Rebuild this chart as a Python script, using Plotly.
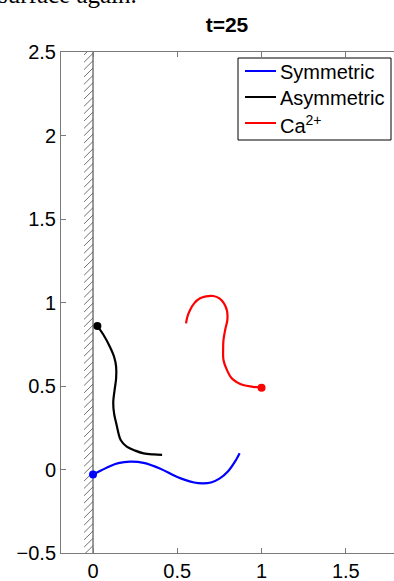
import plotly.graph_objects as go
import numpy as np

# ---- data ----
sym_x = [0.0, 0.05, 0.10, 0.15, 0.22, 0.30, 0.40, 0.50, 0.60, 0.65, 0.70, 0.75, 0.80, 0.85, 0.87]
sym_y = [-0.03, -0.005, 0.02, 0.038, 0.047, 0.040, 0.005, -0.045, -0.078, -0.083, -0.078, -0.055, -0.012, 0.060, 0.097]

asym_x = [0.026, 0.06, 0.10, 0.125, 0.137, 0.137, 0.128, 0.12, 0.125, 0.14, 0.165, 0.20, 0.25, 0.30, 0.36, 0.41]
asym_y = [0.859, 0.81, 0.735, 0.675, 0.616, 0.545, 0.476, 0.40, 0.336, 0.267, 0.175, 0.137, 0.113, 0.097, 0.090, 0.087]

ca_x = [1.0, 0.95, 0.89, 0.85, 0.823, 0.795, 0.774, 0.772, 0.774, 0.785, 0.797, 0.795, 0.777, 0.75, 0.714, 0.67, 0.635, 0.60, 0.576, 0.560, 0.552]
ca_y = [0.49, 0.495, 0.506, 0.525, 0.546, 0.595, 0.656, 0.715, 0.775, 0.84, 0.895, 0.95, 0.995, 1.025, 1.039, 1.037, 1.025, 0.995, 0.955, 0.915, 0.875]

wall_x = [-0.053, 0.0]
hatch_step = 0.044
y_range = [-0.5, 2.5]
x_range = [-0.19, 1.786]

x_ticks = [0, 0.5, 1, 1.5]
x_ticklabels = ["0", "0.5", "1", "1.5"]
y_ticks = [-0.5, 0, 0.5, 1, 1.5, 2, 2.5]
y_ticklabels = ["\u22120.5", "0", "0.5", "1", "1.5", "2", "2.5"]

title_text = "t=25"
names = ["Symmetric", "Asymmetric", "Ca<sup>2+</sup>"]
colors = ["#0000ff", "#000000", "#ff0000"]

# ---- layout geometry (pixels) ----
W, H = 394, 581
ML, MR, MT, MB = 61, 0, 52, 28
PW, PH = W - ML - MR, H - MT - MB


def px_x(px):
    return (px - ML) / PW


def px_y(py):
    return (H - MB - py) / PH


fig = go.Figure()

# hatched wall: diagonal strokes generated along the wall
hx, hy = [], []
dx = wall_x[1] - wall_x[0]
for y0 in np.arange(y_range[0] - dx, y_range[1], hatch_step):
    hx += [wall_x[0], wall_x[1], None]
    hy += [y0, y0 + dx, None]
fig.add_trace(go.Scatter(x=hx, y=hy, mode="lines", line=dict(color="#606060", width=0.9),
                         showlegend=False, hoverinfo="skip"))
fig.add_trace(go.Scatter(x=[wall_x[1], wall_x[1]], y=y_range, mode="lines",
                         line=dict(color="#555555", width=1.2), showlegend=False, hoverinfo="skip"))

# curves
for xs, ys, nm, c in [(sym_x, sym_y, names[0], colors[0]),
                      (asym_x, asym_y, names[1], colors[1]),
                      (ca_x, ca_y, names[2], colors[2])]:
    fig.add_trace(go.Scatter(x=xs, y=ys, mode="lines", name=nm, showlegend=False,
                             line=dict(color=c, width=2.2, shape="spline")))
    fig.add_trace(go.Scatter(x=[xs[0]], y=[ys[0]], mode="markers", showlegend=False,
                             marker=dict(color=c, size=8)))

axis_common = dict(showgrid=False, zeroline=False, showline=True, linecolor="#7a7a7a",
                   linewidth=1, ticks="inside", ticklen=5,
                   tickcolor="#7a7a7a", tickfont=dict(family="Liberation Sans", size=20, color="black"))

fig.update_xaxes(range=x_range, tickvals=x_ticks, ticktext=x_ticklabels, mirror="ticks", **axis_common)
fig.update_yaxes(range=y_range, tickvals=y_ticks, ticktext=y_ticklabels, mirror=False, **axis_common)

# ---- legend (drawn box) ----
shapes = [dict(type="rect", xref="paper", yref="paper",
               x0=px_x(238), x1=px_x(391), y0=px_y(140), y1=px_y(58),
               line=dict(color="black", width=1), fillcolor="white", layer="above")]
annotations = []
rows = [71, 97, 123]
for nm, c, ry in zip(names, colors, rows):
    shapes.append(dict(type="line", xref="paper", yref="paper",
                       x0=px_x(245), x1=px_x(276), y0=px_y(ry), y1=px_y(ry),
                       line=dict(color=c, width=2), layer="above"))
    annotations.append(dict(text=nm, xref="paper", yref="paper", x=px_x(278), y=px_y(ry + 1),
                            xanchor="left", yanchor="middle", showarrow=False,
                            font=dict(family="Liberation Sans", size=20, color="black")))

annotations.append(dict(text="surface again.", xref="paper", yref="paper",
                        x=px_x(-4), xanchor="left", y=px_y(-5.5), yanchor="middle", showarrow=False,
                        font=dict(family="Liberation Serif", size=25, color="black")))

fig.update_layout(
    width=W, height=H,
    margin=dict(l=ML, r=MR, t=MT, b=MB),
    paper_bgcolor="white", plot_bgcolor="white",
    showlegend=False,
    title=dict(text="<b>" + title_text + "</b>", x=227 / W, xanchor="center", y=1 - 25 / H, yanchor="middle",
               font=dict(family="Liberation Sans", size=21, color="black")),
    shapes=shapes,
    annotations=annotations,
)

fig.write_html("out.html", config={"displayModeBar": False},
               post_script="document.body.style.margin='0px';document.body.style.overflow='hidden';")
